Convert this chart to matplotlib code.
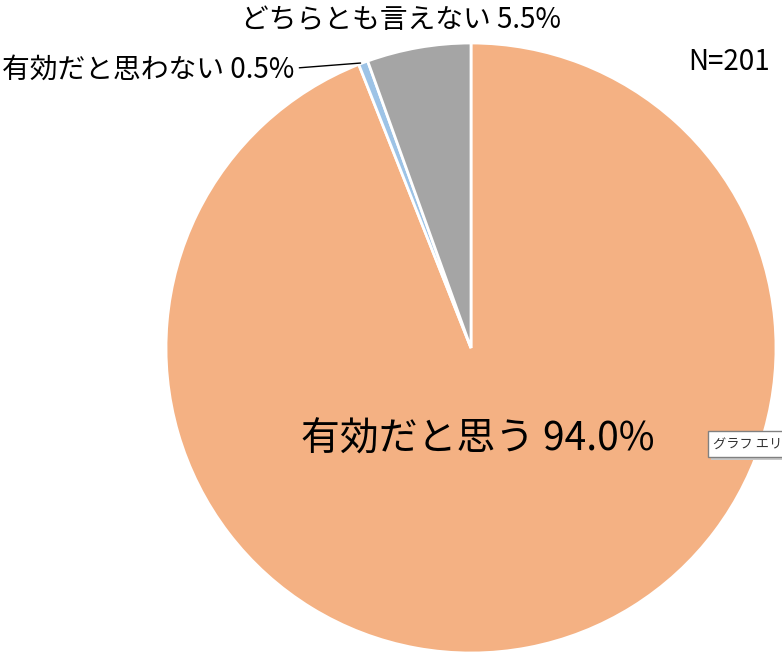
import matplotlib
matplotlib.use('Agg')
import matplotlib.pyplot as plt
from matplotlib.patches import Rectangle

plt.rcParams['font.family'] = ['Noto Sans CJK JP', 'DejaVu Sans']

labels = ['有効だと思う', '有効だと思わない', 'どちらとも言えない']
values = [94.0, 0.5, 5.5]
colors = ['#F4B183', '#9DC3E6', '#A5A5A5']
n_total = 201

W, H = 782, 662
cx, cy, r = 471, 348, 305

fig = plt.figure(figsize=(W / 100, H / 100), dpi=100)
ax = fig.add_axes([(cx - r) / W, (H - cy - r) / H, 2 * r / W, 2 * r / H])

wedges, _ = ax.pie(values, colors=colors, startangle=90, counterclock=False,
                   radius=1, wedgeprops=dict(edgecolor='white', linewidth=2))
ax.set_xlim(-1, 1)
ax.set_ylim(-1, 1)
ax.set_aspect('equal')
ax.axis('off')

# main label inside the big slice
ax.text(0.023, -0.30, f'{labels[0]} {values[0]:.1f}%', ha='center', va='center',
        fontsize=28, color='black')

# small slices labels
ax.text(-0.23, 1.075, f'{labels[2]} {values[2]:.1f}%', ha='center', va='center',
        fontsize=20, color='black', clip_on=False)
ax.text(-0.578, 0.912, f'{labels[1]} {values[1]:.1f}%', ha='right', va='center',
        fontsize=20, color='black', clip_on=False)
ax.annotate('', xy=(-0.353, 0.935), xytext=(-0.572, 0.918),
            arrowprops=dict(arrowstyle='-', color='black', lw=1),
            annotation_clip=False)

fig.text(770 / W, 1 - 62 / H, f'N={n_total}', ha='right', va='center', fontsize=20)

# Excel tooltip leftover
fig.add_artist(Rectangle((711 / W, 1 - 460 / H), 80 / W, 26 / H, transform=fig.transFigure,
                         facecolor='#c8c8c8', edgecolor='none'))
fig.add_artist(Rectangle((708 / W, 1 - 457 / H), 80 / W, 26 / H, transform=fig.transFigure,
                         facecolor='white', edgecolor='#808080', lw=1))
fig.text(713 / W, 1 - 444 / H, 'グラフ エリ', ha='left', va='center', fontsize=9.5,
         color='#333333')

plt.savefig('out.png', dpi=100)
